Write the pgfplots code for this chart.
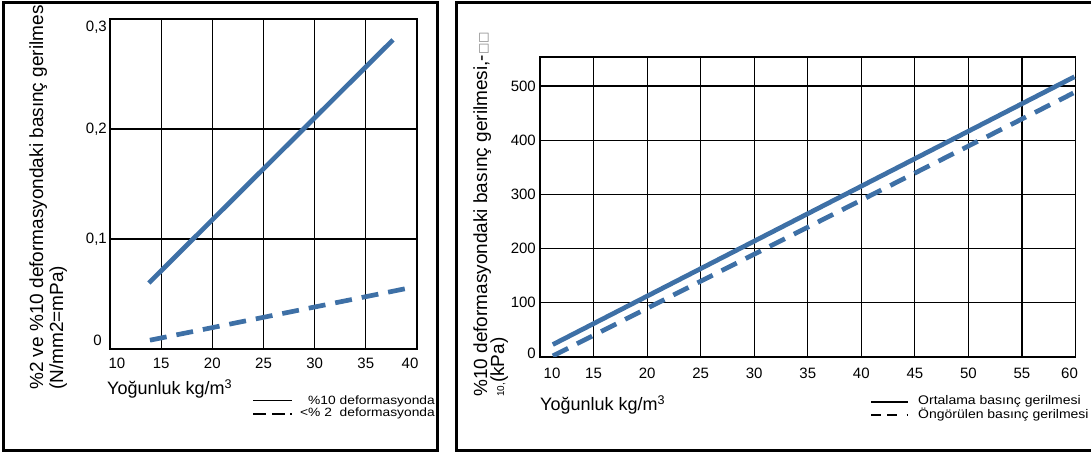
\documentclass[border=0pt]{standalone}
\usepackage{fontspec}
\setmainfont{Liberation Sans}
\newfontfamily\symfont{DejaVu Sans}
\usepackage{graphicx}
\usepackage{pgfplots}
\pgfplotsset{compat=1.18}
\definecolor{lineblue}{RGB}{62,112,166}

\pgfplotsset{
  mystyle/.style={
    scale only axis, anchor=south west,
    grid=major, major grid style={black, line width=1.1pt},
    axis line style={black, line width=1.8pt},
    major tick length=0pt,
    tick label style={font=\fontsize{15}{15}\selectfont},
    /pgf/number format/assume math mode=true,
    xticklabel style={anchor=north, inner sep=0pt},
    yticklabel style={anchor=east, inner sep=0pt},
  }
}

\begin{document}
\begin{tikzpicture}[x=1pt,y=1pt]
% frames
\draw[line width=3pt] (3,3) rectangle (437,451);
\draw[line width=3pt] (456,3) rectangle (1100,451);

% ---------- left chart ----------
\begin{axis}[mystyle, at={(110pt,105pt)}, width=307pt, height=330pt,
  xmin=10, xmax=40, ymin=0, ymax=0.3,
  xtick={10,15,20,25,30,35,40},
  xticklabels={{\hspace*{14pt}10},15,20,25,30,35,{40\hspace*{14pt}}},
  ytick={0,0.1,0.2,0.3},
  yticklabels={{\smash{\raisebox{3.6pt}{0}}\hspace*{5pt}},{0,1},{0,2},{\smash{\raisebox{-12.4pt}{0,3}}}},
  xticklabel style={yshift=-8.6pt},
  yticklabel style={xshift=-3pt},
]
\addplot[lineblue, line width=4.7pt] coordinates {(13.8,0.060) (37.65,0.281)};
\addplot[lineblue, line width=4.7pt, dash pattern=on 17pt off 10pt] coordinates {(13.9,0.008) (39.5,0.056)};
\end{axis}

% ---------- right chart ----------
\begin{axis}[mystyle, at={(540pt,97pt)}, width=535.5pt, height=300pt,
  xmin=10, xmax=60, ymin=0, ymax=553.5,
  xtick={10,15,20,25,30,35,40,45,50,55,60},
  xticklabels={{\hspace*{24pt}10},15,20,25,30,35,40,45,50,55,{60\hspace*{12pt}}},
  ytick={0,100,200,300,400,500},
  yticklabels={{\smash{\raisebox{-1.4pt}{0}}},100,200,300,400,500},
  xticklabel style={yshift=-10.6pt},
  yticklabel style={xshift=-4pt},
]
\addplot[lineblue, line width=4.7pt] coordinates {(11.2,23) (59.9,517)};
\addplot[lineblue, line width=4.7pt, dash pattern=on 17pt off 10pt] coordinates {(11.2,2) (59.8,487)};
\end{axis}

% axis titles
\node[rotate=90, anchor=base west, inner sep=0pt, font=\fontsize{19}{19}\selectfont] at (43,64) {\%2 ve \%10 deformasyondaki basınç gerilmesi};
\node[rotate=90, anchor=base west, inner sep=0pt, font=\fontsize{19}{19}\selectfont] at (63,64) {(N/mm2=mPa)};
\node[rotate=90, anchor=base west, inner sep=0pt, font=\fontsize{19}{19}\selectfont] at (487,57) {\%10 deformasyondaki basınç gerilmesi,-{\symfont\fontsize{12}{12}\selectfont\color{gray}□□}};
\node[rotate=90, anchor=base west, inner sep=0pt, font=\fontsize{19}{19}\selectfont] at (504,57) {{\fontsize{10}{10}\selectfont 10,}(kPa)};

\node[anchor=base west, inner sep=0pt, font=\fontsize{18}{18}\selectfont] at (107,59.5) {Yoğunluk kg/m\textsuperscript{3}};
\node[anchor=base west, inner sep=0pt, font=\fontsize{18}{18}\selectfont] at (540,43.5) {Yoğunluk kg/m\textsuperscript{3}};

% left legend
\draw[line width=1.5pt] (253,53.5) -- (292,53.5);
\draw[line width=1.5pt, dash pattern=on 13pt off 6pt on 13pt off 5pt on 2pt off 30pt] (253,40) -- (293,40);
\node[anchor=base east, inner sep=0pt] at (435,49.7) {\scalebox{1.15}[1]{\fontsize{12}{12}\selectfont \%10 deformasyonda}};
\node[anchor=base east, inner sep=0pt] at (435,37) {\scalebox{1.15}[1]{\fontsize{12}{12}\selectfont <\% 2\ \ deformasyonda}};

% right legend
\draw[line width=1.5pt] (871,52) -- (908,52);
\draw[line width=1.5pt, dash pattern=on 10pt off 6pt on 10pt off 9.5pt on 1.6pt off 30pt] (871,39) -- (908.5,39);
\node[anchor=base west, inner sep=0pt] at (918,49.7) {\scalebox{1.12}[1]{\fontsize{12.5}{12.5}\selectfont Ortalama basınç gerilmesi}};
\node[anchor=base west, inner sep=0pt] at (918,35.5) {\scalebox{1.12}[1]{\fontsize{12.5}{12.5}\selectfont Öngörülen basınç gerilmesi}};

\pgfresetboundingbox
\path[use as bounding box] (0,0) rectangle (1091,454);
\end{tikzpicture}
\end{document}
